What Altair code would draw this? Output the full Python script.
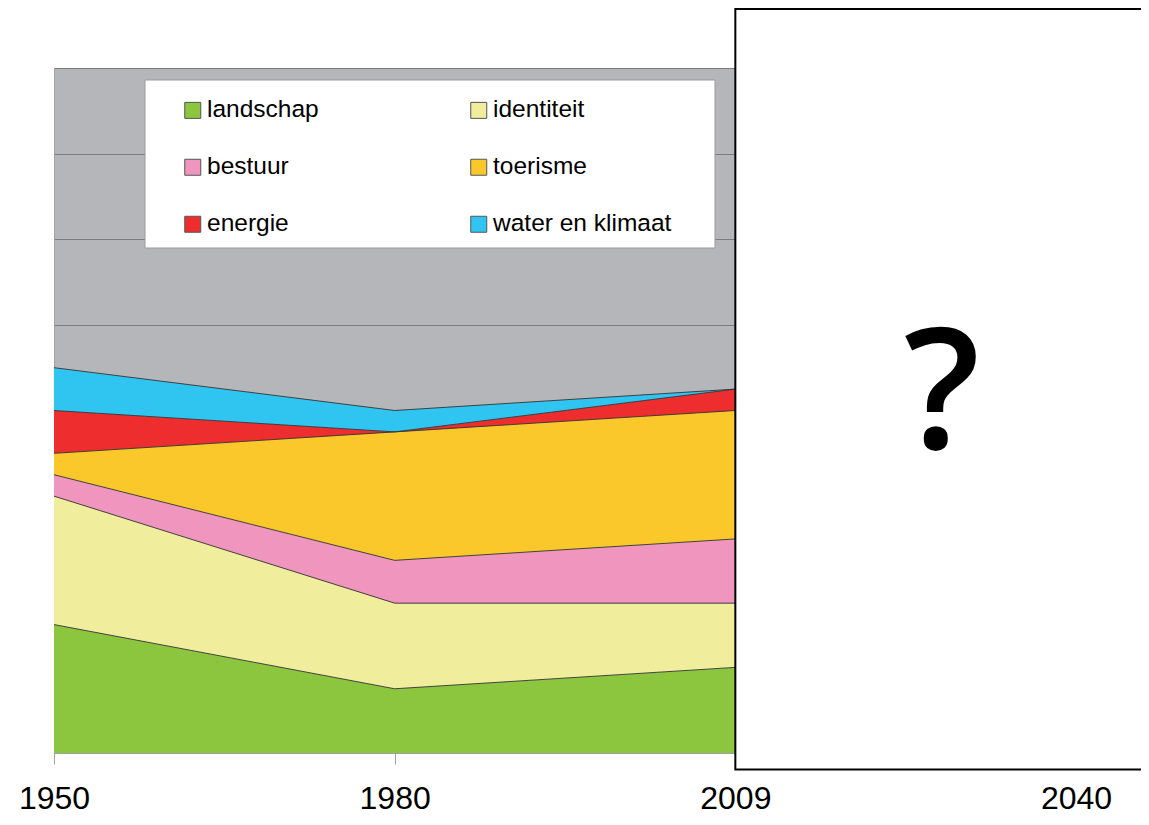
import altair as alt
import pandas as pd

# ---- data ----
years = ["1950", "1980", "2009"]
all_years = ["1950", "1980", "2009", "2040"]
themes = ["landschap", "identiteit", "bestuur", "toerisme", "energie", "water en klimaat"]
landschap = [6, 3, 4]
identiteit = [6, 4, 3]
bestuur = [1, 2, 3]
toerisme = [1, 6, 6]
energie = [2, 0, 1]
water_en_klimaat = [2, 1, 0]
y_max = 32
grid_values = [0, 4, 8, 12, 16, 20, 24, 28, 32]
future_year = ["2009"]
question = ["?"]

colors = ["#8cc63f", "#f0ee9c", "#f095be", "#fac82b", "#ee2e2e", "#30c5f0"]

series = [landschap, identiteit, bestuur, toerisme, energie, water_en_klimaat]
rows = []
for k, (name, vals) in enumerate(zip(themes, series)):
    for yr, v in zip(years, vals):
        rows.append({"jaar": yr, "thema": name, "waarde": v, "volgorde": k})
df = pd.DataFrame(rows)

FONT = "Liberation Sans"

x_scale = alt.Scale(domain=all_years, type="point", padding=0)
y_scale = alt.Scale(domain=[0, y_max], nice=False, zero=True)
x_axis = alt.Axis(labelAngle=0, labelFont=FONT, labelFontSize=32, labelColor="black",
                  labelPadding=19, tickSize=11, tickColor="#a0a0a0", domainColor="#a0a0a0",
                  grid=False, labelFlush=False, labelOverlap=False, title=None)
y_axis = alt.Axis(values=grid_values, labels=False, ticks=False, grid=True,
                  gridColor="#7c7c7c", gridWidth=1, domainColor="#a3a3a3", title=None)

area = alt.Chart(df).mark_area(interpolate="linear", opacity=1).encode(
    x=alt.X("jaar:O", scale=x_scale, axis=x_axis),
    y=alt.Y("waarde:Q", stack="zero", scale=y_scale, axis=y_axis),
    color=alt.Color("thema:N", scale=alt.Scale(domain=themes, range=colors), sort=themes,
                    legend=alt.Legend(orient="none", legendX=126.5, legendY=30, columns=2,
                                      direction="horizontal", title=None, symbolType="square",
                                      symbolSize=256, symbolStrokeWidth=1, symbolStrokeColor="#555555",
                                      symbolOpacity=1, labelFont=FONT, labelFontSize=24.5,
                                      labelColor="black", labelOffset=2, rowPadding=32,
                                      columnPadding=147, padding=0, labelLimit=500)),
    order=alt.Order("volgorde:Q", sort="ascending"),
)

lines = alt.Chart(df).transform_window(
    top="sum(waarde)", frame=[None, 0], groupby=["jaar"], sort=[alt.SortField("volgorde")]
).mark_line(color="#333333", strokeWidth=0.9).encode(
    x=alt.X("jaar:O", scale=x_scale, axis=x_axis),
    y=alt.Y("top:Q", scale=y_scale, axis=y_axis),
    detail="thema:N",
)

legend_box = alt.Chart(pd.DataFrame({"k": [0]})).mark_rect(
    fill="white", stroke="#9b9b9b", strokeWidth=1
).encode(x=alt.value(91), x2=alt.value(661), y=alt.value(12), y2=alt.value(180))

box = alt.Chart(pd.DataFrame({"jaar": future_year})).mark_rect(
    fill="white", stroke="black", strokeWidth=2
).encode(
    x=alt.X("jaar:O", scale=x_scale, axis=x_axis),
    x2=alt.value(1110),
    y=alt.value(-59),
    y2=alt.value(701.5),
)

qmark = alt.Chart(pd.DataFrame({"t": question})).mark_text(
    font="Open Sans", fontWeight=600, fontSize=168, color="black", align="center", baseline="alphabetic"
).encode(text="t:N", x=alt.value(888), y=alt.value(381))

chart = alt.layer(area, lines, legend_box, box, qmark).properties(
    width=1022, height=685,
    autosize=alt.AutoSizeParams(type="none"),
    padding={"left": 46, "top": 60, "right": 65, "bottom": 64},
).configure_view(fill="#b4b6b9", stroke=None)

chart.save("out.html", embed_options={"renderer": "svg", "actions": False})
